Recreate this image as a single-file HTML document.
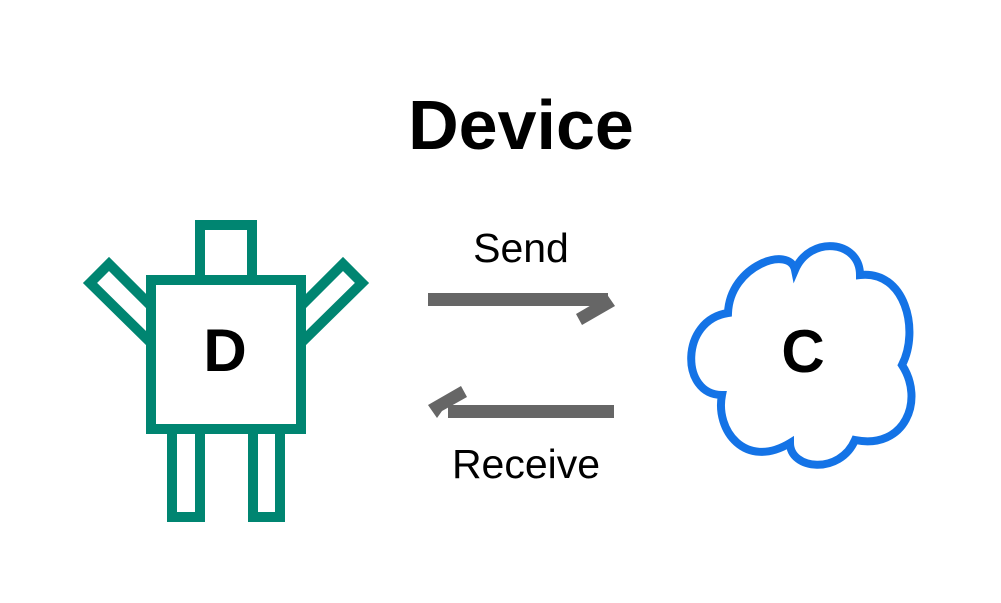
<!DOCTYPE html>
<html><head><style>body{margin:0;background:#fff}</style></head><body>
<svg width="1001" height="598" viewBox="0 0 1001 598" xmlns="http://www.w3.org/2000/svg" font-family="Liberation Sans, sans-serif">
<rect width="1001" height="598" fill="#fff"/>
<text x="521" y="149" font-size="70" font-weight="bold" text-anchor="middle">Device</text>
<g fill="#fff" stroke="#008571" stroke-width="10">
<rect x="200" y="225" width="52" height="55"/>
<polygon points="90,283 109,264 151,306 151,343"/>
<polygon points="362,283 343,264 301,306 301,343"/>
<rect x="172" y="429" width="28" height="88"/>
<rect x="253" y="429" width="27" height="88"/>
<rect x="151" y="280" width="150" height="149"/>
</g>
<text x="225" y="371" font-size="60" font-weight="bold" text-anchor="middle">D</text>
<g fill="#666">
<rect x="428" y="293" width="180" height="13"/>
<polygon points="606,293 615,306 582,325 576,314 600,300"/>
<rect x="448" y="405" width="166" height="13"/>
<polygon points="437,418 428,405 461,386 467,397 442,411"/>
</g>
<text x="521" y="262" font-size="41" text-anchor="middle">Send</text>
<text x="526" y="478" font-size="41" text-anchor="middle">Receive</text>
<path d="M728,313 C730,265 790,245 795,270 C810,235 860,240 860,275 C905,270 920,330 902,365 C925,400 905,450 855,440 C840,475 790,470 790,443 C745,470 715,430 722,395 C680,395 680,320 728,313 Z" fill="#fff" stroke="#1473e6" stroke-width="8"/>
<text x="803" y="372" font-size="60" font-weight="bold" text-anchor="middle">C</text>
</svg>
</body></html>
